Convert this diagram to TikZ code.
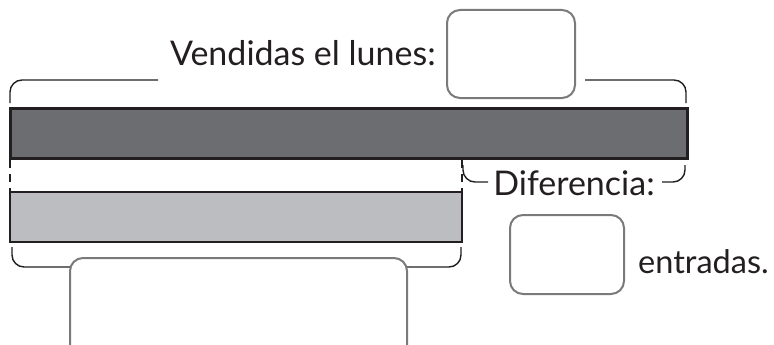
\documentclass[tikz,border=0pt]{standalone}
\usepackage{fontspec}
\setmainfont{Lato}
\usetikzlibrary{positioning}
\definecolor{bardark}{RGB}{108,109,113}
\definecolor{barlight}{RGB}{188,189,192}
\definecolor{inkline}{RGB}{35,31,32}
\definecolor{boxgray}{RGB}{122,122,122}
\tikzset{
  answerbox/.style={draw=boxgray,line width=2pt,rounded corners=13pt,fill=white,
    inner sep=0pt},
  bracket/.style={inkline,line width=1.4pt,rounded corners=12pt},
  barlabel/.style={font=\fontsize{34}{38}\selectfont,text=inkline,inner sep=0pt}
}

\begin{document}
\begin{tikzpicture}[x=1pt,y=-1pt]
    \clip (0,0) rectangle (774,345);
    % bars for monday and tuesday
    \draw[inkline,line width=3pt,fill=bardark] (10,108) rectangle (687,158);
    \draw[inkline,line width=2.2pt,fill=barlight] (10,192) rectangle (462,242);
    \foreach \x in {10,462}{
      \draw[inkline,line width=1.4pt,dash pattern=on 8pt off 6pt] (\x,160) -- (\x,192);}
    % top bracket and its label
    \node[barlabel,anchor=base east] (lunes) at (436,66) {Vendidas el lunes:};
    \node[answerbox,minimum width=128pt,minimum height=88pt] (lunesbox) at (511,54) {};
    \draw[bracket] (10,103) -- (10,80) -- (158,80);
    \draw[bracket] (585,80) -- (686,80) -- (686,103);
    % difference bracket
    \node[barlabel,anchor=base] (dif) at (574,195) {Diferencia:};
    \draw[bracket] (463,165) -- (463,182) -- (488,182);
    \draw[bracket] (662,182) -- (685,182) -- (685,165);
    \node[answerbox,minimum width=114pt,minimum height=79pt] (difbox) at (567,254.5) {};
    \node[barlabel,anchor=base west,font=\fontsize{32.5}{36}\selectfont] (entradas)
      at (638,273) {entradas.};
    % bottom bracket for tuesday
    \draw[bracket] (12,247) -- (12,267) -- (461,267) -- (461,247);
    \node[answerbox,minimum width=337pt,minimum height=100pt] (martesbox) at (238.5,308) {};
\end{tikzpicture}
\end{document}
